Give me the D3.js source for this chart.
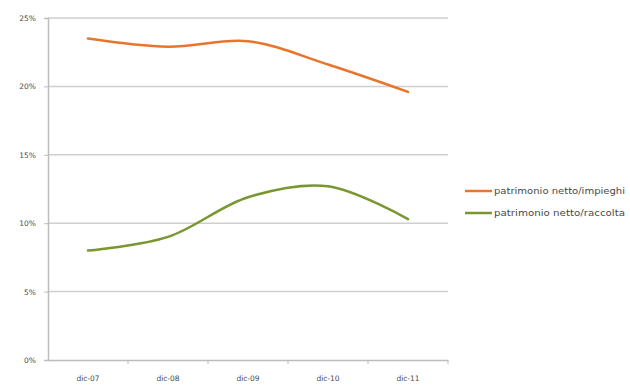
<!DOCTYPE html>
<html>
<head>
<meta charset="utf-8">
<script src="https://cdn.jsdelivr.net/npm/d3@7"></script>
<style>
  html, body { margin: 0; padding: 0; background: #fff; }
  svg { display: block; }
  text { font-family: "DejaVu Sans", Verdana, sans-serif; }
</style>
</head>
<body>
<svg id="chart" width="630" height="386"></svg>
<script>
// Categories (year-end dates) and ratio series, in percent
const categories = ["dic-07", "dic-08", "dic-09", "dic-10", "dic-11"];
const impieghi = [23.5, 22.9, 23.3, 21.6, 19.6];
const raccolta = [8.0, 9.0, 11.9, 12.7, 10.3];
const yTicks = [0, 5, 10, 15, 20, 25];
const seriesNames = ["patrimonio netto/impieghi", "patrimonio netto/raccolta"];
const seriesColors = ["#E8752E", "#7A9630"];

const svg = d3.select("#chart");
const margin = { left: 48, right: 182, top: 18, bottom: 26 };
const W = 630, H = 386;

const x = d3.scaleBand().domain(categories).range([margin.left, W - margin.right]);
const y = d3.scaleLinear().domain([0, 25]).range([H - margin.bottom, margin.top]);

// Horizontal gridlines
svg.append("g")
  .selectAll("line")
  .data(yTicks.filter(d => d > 0))
  .join("line")
  .attr("x1", margin.left).attr("x2", W - margin.right)
  .attr("y1", d => y(d)).attr("y2", d => y(d))
  .attr("stroke", "#cfcfcf").attr("stroke-width", 1.5);

// Y axis
const yAxis = svg.append("g")
  .attr("transform", `translate(${margin.left},0)`)
  .call(d3.axisLeft(y).tickValues(yTicks).tickFormat(d => d + "%").tickSize(4).tickPadding(8));
yAxis.select(".domain").attr("stroke", "#bdbdbd").attr("stroke-width", 1.5);
yAxis.selectAll(".tick line").attr("stroke", "#bdbdbd");
yAxis.selectAll("text").style("font-size", "7.5px").attr("fill", "#4a4a4a");

// X axis with ticks at category boundaries
const xAxis = svg.append("g")
  .attr("transform", `translate(0,${y(0)})`)
  .call(d3.axisBottom(x).tickSize(0).tickPadding(16));
xAxis.select(".domain").attr("stroke", "#bdbdbd").attr("stroke-width", 1.5);
xAxis.selectAll("text").style("font-size", "7.5px").attr("fill", "#4a4a4a");
svg.append("g")
  .selectAll("line")
  .data(categories)
  .join("line")
  .attr("x1", (d, i) => margin.left + (i + 1) * x.step())
  .attr("x2", (d, i) => margin.left + (i + 1) * x.step())
  .attr("y1", y(0)).attr("y2", y(0) + 4)
  .attr("stroke", "#bdbdbd");

// Smoothed lines
const line = d3.line()
  .x((d, i) => x(categories[i]) + x.bandwidth() / 2)
  .y(d => y(d))
  .curve(d3.curveCatmullRom.alpha(0.5));

[impieghi, raccolta].forEach((s, k) => {
  svg.append("path")
    .datum(s)
    .attr("d", line)
    .attr("fill", "none")
    .attr("stroke", seriesColors[k])
    .attr("stroke-width", 2.5)
    .attr("stroke-linecap", "round");
});

// Legend (labels stretched to the wide legend column)
const legend = svg.append("g").attr("transform", "translate(465,191)");
seriesNames.forEach((name, k) => {
  const g = legend.append("g").attr("transform", `translate(0,${k * 22})`);
  g.append("line").attr("x1", 0).attr("x2", 27).attr("y1", 0).attr("y2", 0)
    .attr("stroke", seriesColors[k]).attr("stroke-width", 2.5);
  g.append("text").attr("x", 29).attr("y", 3).style("font-size", "8.5px")
    .attr("textLength", 131).attr("lengthAdjust", "spacingAndGlyphs")
    .attr("fill", "#4a4a4a").text(name);
});
</script>
</body>
</html>
